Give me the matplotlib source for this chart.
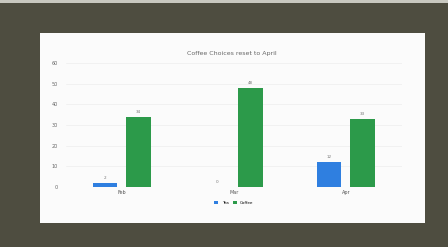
import numpy as np
import matplotlib
matplotlib.use("Agg")
import matplotlib.pyplot as plt
from matplotlib.patches import Rectangle

title = "Coffee Choices reset to April"
months = ["Feb", "Mar", "Apr"]
tea = [2, 0, 12]
coffee = [34, 48, 33]
yticks = [0, 10, 20, 30, 40, 50, 60]

fig = plt.figure(figsize=(4.48, 2.47), dpi=100)
fig.patch.set_facecolor("#4e4d40")

# light strip at top of photo, then the white screen
fig.add_artist(Rectangle((0, 0.988), 1, 0.012, transform=fig.transFigure,
                         facecolor="#c8c8c0", edgecolor="none", zorder=0))
fig.add_artist(Rectangle((0.089, 0.097), 0.86, 0.769, transform=fig.transFigure,
                         facecolor="#fbfbfb", edgecolor="none", zorder=0))

ax = fig.add_axes([0.147, 0.243, 0.75, 0.502])
ax.set_facecolor("none")
x = np.arange(len(months))
w = 0.22
b1 = ax.bar(x - 0.15, tea, w, color="#2f7fe0", label="Tea", zorder=3)
b2 = ax.bar(x + 0.15, coffee, w, color="#2c9a4a", label="Coffee", zorder=3)
for bars, vals in [(b1, tea), (b2, coffee)]:
    for r, v in zip(bars, vals):
        ax.text(r.get_x() + r.get_width() / 2, v + 1.5, str(v), ha="center",
                va="bottom", fontsize=3, color="#777777")

ax.set_xlim(-0.5, 2.5)
ax.set_ylim(0, 60)
ax.set_yticks(yticks)
ax.set_yticklabels([str(t) for t in yticks], fontsize=3.5, color="#666666")
ax.set_xticks(x)
ax.set_xticklabels(months, fontsize=3.5, color="#555555")
ax.tick_params(axis="y", length=0, pad=6)
ax.tick_params(axis="x", length=0, pad=2)
ax.grid(axis="y", color="#eeeeee", linewidth=0.5, zorder=0)
for s in ax.spines.values():
    s.set_visible(False)

fig.text(0.518, 0.782, title, ha="center", va="center", fontsize=4.5, color="#666666")
ax.legend(loc="upper center", bbox_to_anchor=(0.5, -0.08), ncol=2, frameon=False,
          fontsize=3, handlelength=1, handleheight=0.6, columnspacing=1)

plt.savefig("out.png", dpi=100, facecolor=fig.get_facecolor())
plt.close()
